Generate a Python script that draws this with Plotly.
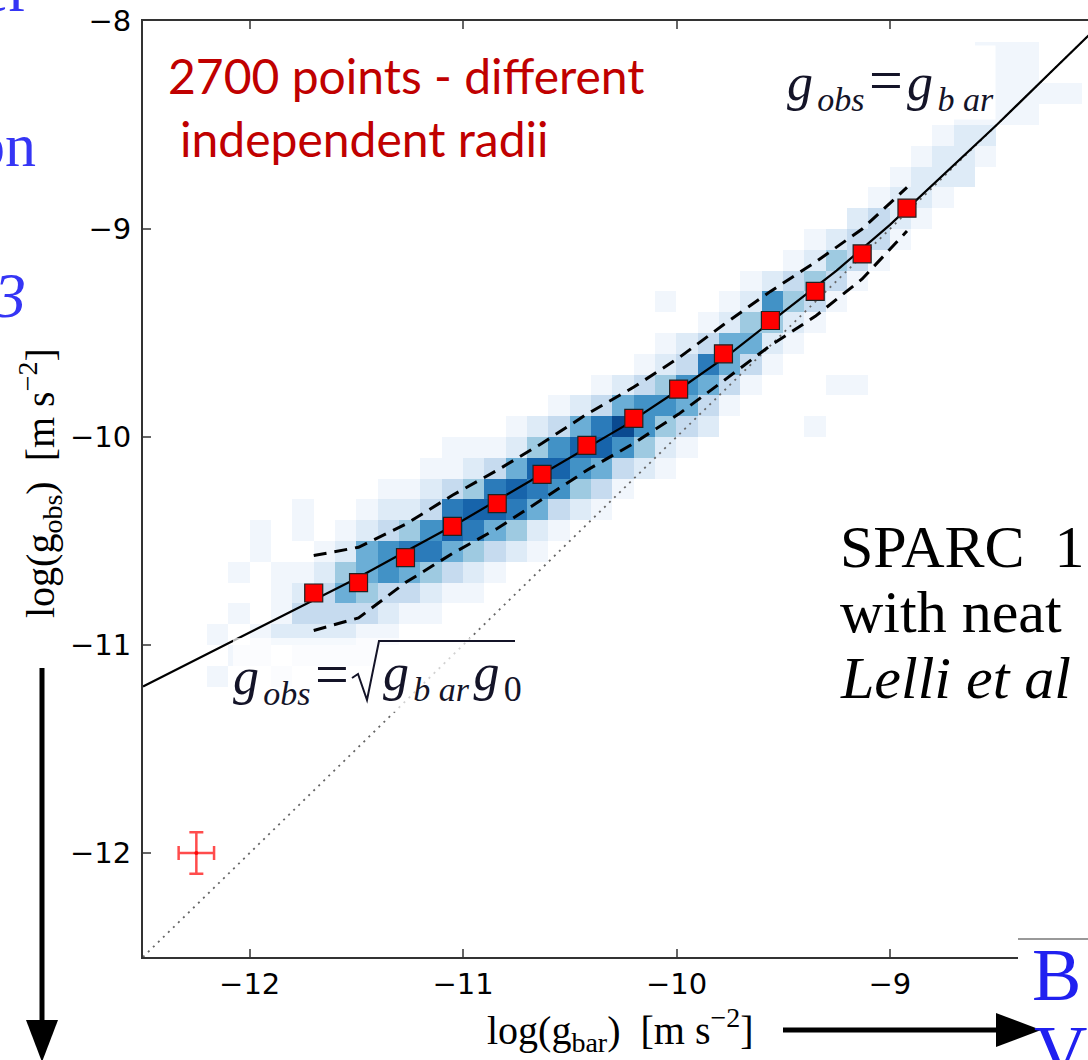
import plotly.graph_objects as go

# ---- binned means of the radial acceleration relation ----
bin_x = [-11.70, -11.49, -11.27, -11.05, -10.84, -10.63, -10.42, -10.20,
         -9.99, -9.78, -9.56, -9.35, -9.13, -8.92]
bin_mean = [-10.75, -10.70, -10.58, -10.43, -10.32, -10.18, -10.04, -9.91,
            -9.77, -9.60, -9.44, -9.30, -9.12, -8.90]
bin_upper = [-10.57, -10.53, -10.42, -10.28, -10.16, -10.03, -9.89, -9.76,
             -9.62, -9.46, -9.30, -9.16, -9.00, -8.80]
bin_lower = [-10.93, -10.87, -10.70, -10.56, -10.44, -10.30, -10.16, -10.03,
             -9.89, -9.73, -9.56, -9.42, -9.24, -9.01]

# ---- fitted relation ----
fit_x = [-12.5, -12.25, -12.0, -11.75, -11.5, -11.25, -11.0, -10.75, -10.5,
         -10.25, -10.0, -9.75, -9.5, -9.25, -9.0, -8.75, -8.5, -8.25, -8.0]
fit_y = [-11.20, -11.07, -10.94, -10.81, -10.68, -10.54, -10.40, -10.25, -10.10,
         -9.95, -9.78, -9.60, -9.40, -9.20, -8.98, -8.74, -8.50, -8.25, -8.00]

# ---- one-to-one line ----
unity = [-12.5, -8.0]

# ---- typical error bar ----
err_x, err_y = [-12.25], [-12.0]
err_dx, err_dy = [0.083], [0.10]

# ---- 2D histogram (0.1 dex bins from -12.5); per column: first row, shade levels ----
hist_columns = {
    3: (13, "101"),
    4: (14, "10101"),
    5: (14, "1100011"),
    6: (13, "102111"),
    7: (14, "12321011"),
    8: (14, "123321"),
    9: (14, "1235421"),
    10: (14, "11345521"),
    11: (15, "12366321"),
    12: (16, "1357421"),
    13: (16, "12476321"),
    14: (17, "13587311"),
    15: (17, "12478421"),
    16: (18, "1358731"),
    17: (19, "2478521"),
    18: (19, "1257842"),
    19: (20, "1368631"),
    20: (21, "246852"),
    21: (21, "1358731"),
    22: (22, "136952"),
    23: (23, "246631"),
    24: (23, "124642101"),
    25: (24, "135632"),
    26: (25, "235731"),
    27: (26, "135521"),
    28: (27, "135421"),
    29: (28, "12462"),
    30: (29, "12431"),
    31: (25, "1000013421"),
    32: (27, "10001342"),
    33: (27, "100001332"),
    34: (33, "1331"),
    35: (34, "1221"),
    36: (35, "1221"),
    37: (36, "1221"),
    38: (37, "2221"),
    39: (38, "121111"),
    40: (40, "1111"),
    41: (40, "1111"),
    42: (41, "1"),
    43: (41, "1"),
}
blues = ['#f1f6fc', '#deebf7', '#c6dbef', '#9ecae1', '#6baed6',
         '#4292c6', '#2b7bba', '#1764ab', '#0a4a90']

tick_vals_x = [-12, -11, -10, -9]
tick_vals_y = [-12, -11, -10, -9, -8]

NB = 45
edge0, step = -12.5, 0.1
centers = [round(edge0 + step * (i + 0.5), 3) for i in range(NB)]
z = [[None] * NB for _ in range(NB)]
for col, (row0, levels) in hist_columns.items():
    for k, ch in enumerate(levels):
        if ch != '0':
            z[row0 + k][col] = int(ch)

colorscale = [[i / (len(blues) - 1), c] for i, c in enumerate(blues)]

# ---- page geometry (pixels) ----
W, H = 1088, 1060
L, T, B = 143, 21, 103
PW, PH = W - L, H - T - B
x_per_unit = 213.4


def px(x):
    return (x - L) / PW


def py(y):
    return (H - B - y) / PH


fig = go.Figure()
fig.add_trace(go.Heatmap(x=centers, y=centers, z=z, zmin=1, zmax=9,
                         colorscale=colorscale, showscale=False,
                         hoverongaps=False))
fig.add_trace(go.Scatter(x=unity, y=unity, mode='lines',
                         line=dict(color='#666666', width=1.8, dash='2px,5px')))
fig.add_trace(go.Scatter(x=fit_x, y=fit_y, mode='lines',
                         line=dict(color='black', width=2.2)))
fig.add_trace(go.Scatter(x=bin_x, y=bin_upper, mode='lines',
                         line=dict(color='black', width=3, dash='13px,8px')))
fig.add_trace(go.Scatter(x=bin_x, y=bin_lower, mode='lines',
                         line=dict(color='black', width=3, dash='13px,8px')))
fig.add_trace(go.Scatter(x=bin_x, y=bin_mean, mode='markers',
                         marker=dict(symbol='square', size=18, color='#ff0000',
                                     line=dict(color='#222222', width=1.2))))
fig.add_trace(go.Scatter(x=err_x, y=err_y, mode='markers',
                         marker=dict(size=4, color='rgba(255,0,0,0.85)'),
                         error_x=dict(type='data', array=err_dx, color='rgba(255,0,0,0.7)',
                                      thickness=2.5, width=7),
                         error_y=dict(type='data', array=err_dy, color='rgba(255,0,0,0.7)',
                                      thickness=2.5, width=7)))

axis_common = dict(showgrid=False, zeroline=False, showline=True, linecolor='#333333',
                   linewidth=2, ticks='inside', ticklen=8, tickwidth=1.5,
                   tickcolor='#666666',
                   tickfont=dict(family='DejaVu Sans', size=29, color='black'))
fig.update_xaxes(range=[-12.5, -12.5 + PW / x_per_unit], tickvals=tick_vals_x,
                 ticktext=['\u2212' + str(abs(v)) for v in tick_vals_x],
                 mirror='ticks', **axis_common)
fig.update_yaxes(range=[-12.5, -8.0], tickvals=tick_vals_y,
                 ticktext=['\u2212' + str(abs(v)) for v in tick_vals_y],
                 mirror=False, ticklabelstandoff=4, **axis_common)

serif = 'Liberation Serif'
ann = []


def text(x, y, s, size, color='black', family=serif, xanchor='left', angle=0, bg=None):
    d = dict(x=px(x), y=py(y), xref='paper', yref='paper', text=s, showarrow=False,
             xanchor=xanchor, yanchor='middle', textangle=angle,
             font=dict(family=family, size=size, color=color))
    if bg:
        d.update(bgcolor=bg)
    ann.append(d)


def sub(s, size=34, italic=True):
    inner = f'<i>{s}</i>' if italic else s
    return f'<sub><span style="font-size:{size}px">{inner}</span></sub>'


HS = '\u200a'
EQ = f'{HS}<span style="font-size:60px">=</span>{HS}'

red = '#c00000'
ink = '#141428'
blue = '#3535f5'
text(166, 75, '2700 points - different', 48, red, 'Lato')
text(178, 138, 'independent radii', 48, red, 'Lato')
text(785, 83, f'<i>g</i>{HS}' + sub('obs') + EQ + f'<i>g</i>{HS}' + sub('b ar'),
     52, ink, bg='white')
text(231, 676, f'<i>g</i>{HS}' + sub('obs') + EQ, 52, ink)
text(381, 676, f'<i>g</i>{HS}' + sub('b ar') + f'{HS}<i>g</i>{HS}' + sub('0', 36, italic=False),
     52, ink)
text(838, 547, 'SPARC\u00a0 1', 60)
text(838, 612, 'with neat', 60)
text(838, 678, '<i>Lelli et al</i>', 60)
text(32, -10, 'er', 64, blue, xanchor='right')
text(38, 145, 'on', 62, blue, xanchor='right')
text(28, 296, '<i>3</i>', 64, blue, xanchor='right')
text(1030, 975, 'B', 74, '#2020f0')
text(1032, 1052, 'V', 74, '#2020f0')
text(620, 1030, 'log(g<sub>bar</sub>)  [m s<sup>\u22122</sup>]', 40, xanchor='center')
text(40, 483, 'log(g<sub>obs</sub>)  [m s<sup>\u22122</sup>]', 40, xanchor='center', angle=-90)

shapes = [
    # translucent backing behind the lower formula
    dict(type='rect', xref='paper', yref='paper', x0=px(233), x1=px(520),
         y0=py(712), y1=py(638), fillcolor='rgba(255,255,255,0.7)', line=dict(width=0),
         layer='above'),
    # radical sign with its overline
    dict(type='path', xref='paper', yref='paper',
         path=(f'M {px(352)} {py(678)} L {px(358)} {py(674)} L {px(367)} {py(700)} '
               f'L {px(379)} {py(641)} L {px(515)} {py(641)}'),
         line=dict(color=ink, width=2), layer='above'),
    # panel in the lower right corner
    dict(type='rect', xref='paper', yref='paper', x0=px(1018), x1=px(1100),
         y0=py(1070), y1=py(939), fillcolor='white', line=dict(width=0), layer='above'),
    dict(type='line', xref='paper', yref='paper', x0=px(1018), x1=px(1100),
         y0=py(939), y1=py(939), line=dict(color='#999999', width=2), layer='above'),
    # downward arrow
    dict(type='line', xref='paper', yref='paper', x0=px(42), x1=px(42),
         y0=py(668), y1=py(1025), line=dict(color='black', width=5), layer='above'),
    dict(type='path', xref='paper', yref='paper',
         path=f'M {px(26)} {py(1020)} L {px(58)} {py(1020)} L {px(42)} {py(1062)} Z',
         fillcolor='black', line=dict(width=0), layer='above'),
    # rightward arrow
    dict(type='line', xref='paper', yref='paper', x0=px(783), x1=px(1000),
         y0=py(1030), y1=py(1030), line=dict(color='black', width=5), layer='above'),
    dict(type='path', xref='paper', yref='paper',
         path=f'M {px(996)} {py(1013)} L {px(996)} {py(1047)} L {px(1041)} {py(1030)} Z',
         fillcolor='black', line=dict(width=0), layer='above'),
]

fig.update_layout(width=W, height=H, margin=dict(l=L, r=0, t=T, b=B),
                  paper_bgcolor='white', plot_bgcolor='white', showlegend=False,
                  annotations=ann, shapes=shapes)

fig.write_html('out.html')
